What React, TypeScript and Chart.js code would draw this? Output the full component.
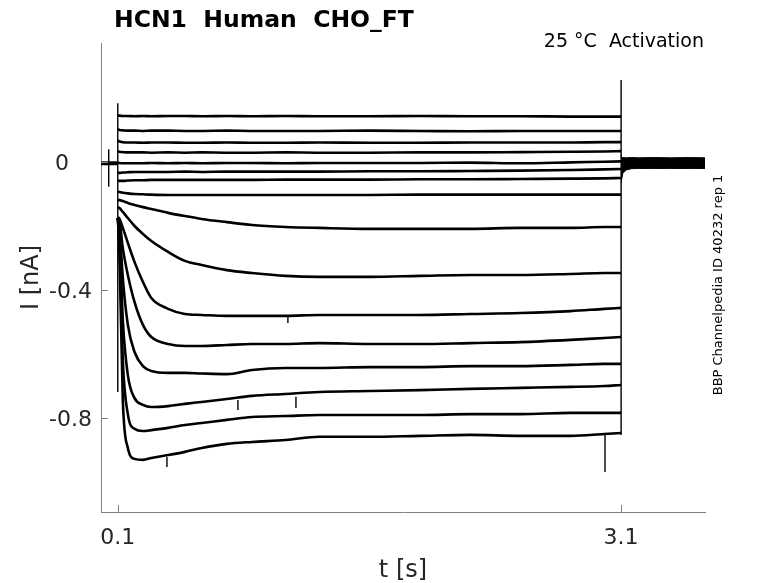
import { useEffect, useRef } from "react";
import { Chart, registerables, type Plugin } from "chart.js";

Chart.register(...registerables);

// sample times (s) along the test pulse
const pulseTimes = [0.1, 0.11, 0.13, 0.16, 0.2, 0.25, 0.3, 0.4, 0.5, 0.6, 0.75, 0.9, 1.1, 1.3, 1.6, 1.9, 2.2, 2.5, 2.8, 3.0, 3.1];

// current (nA) of each sweep, top to bottom
const sweep01 = [0.146, 0.145, 0.144, 0.144, 0.143, 0.144, 0.143, 0.144, 0.144, 0.143, 0.144, 0.143, 0.144, 0.143, 0.143, 0.144, 0.143, 0.143, 0.142, 0.142, 0.142];
const sweep02 = [0.103, 0.1, 0.099, 0.098, 0.098, 0.097, 0.098, 0.098, 0.097, 0.097, 0.098, 0.097, 0.097, 0.097, 0.098, 0.097, 0.096, 0.097, 0.097, 0.097, 0.097];
const sweep03 = [0.067, 0.064, 0.062, 0.061, 0.061, 0.06, 0.061, 0.061, 0.06, 0.06, 0.061, 0.06, 0.06, 0.061, 0.06, 0.06, 0.061, 0.061, 0.061, 0.062, 0.062];
const sweep04 = [0.034, 0.032, 0.031, 0.03, 0.03, 0.03, 0.029, 0.03, 0.029, 0.03, 0.029, 0.029, 0.03, 0.029, 0.029, 0.03, 0.03, 0.031, 0.032, 0.033, 0.034];
const sweep05 = [-0.002, -0.003, -0.004, -0.004, -0.004, -0.004, -0.003, -0.004, -0.003, -0.004, -0.003, -0.003, -0.004, -0.003, -0.003, -0.003, -0.002, -0.004, -0.001, 0.001, 0.002];
const sweep06 = [-0.034, -0.034, -0.033, -0.032, -0.031, -0.031, -0.031, -0.031, -0.03, -0.031, -0.03, -0.03, -0.03, -0.03, -0.029, -0.029, -0.028, -0.027, -0.025, -0.023, -0.022];
const sweep07 = [-0.058, -0.059, -0.059, -0.058, -0.057, -0.057, -0.056, -0.056, -0.056, -0.056, -0.056, -0.056, -0.055, -0.055, -0.055, -0.054, -0.054, -0.053, -0.052, -0.051, -0.05];
const sweep08 = [-0.092, -0.094, -0.096, -0.098, -0.1, -0.101, -0.102, -0.103, -0.103, -0.103, -0.103, -0.103, -0.103, -0.103, -0.103, -0.102, -0.102, -0.102, -0.102, -0.102, -0.102];
const sweep09 = [-0.119, -0.119, -0.122, -0.128, -0.134, -0.141, -0.147, -0.159, -0.169, -0.178, -0.188, -0.197, -0.203, -0.206, -0.209, -0.209, -0.209, -0.206, -0.206, -0.203, -0.203];
const sweep10 = [-0.141, -0.144, -0.156, -0.175, -0.2, -0.225, -0.247, -0.281, -0.309, -0.322, -0.338, -0.347, -0.356, -0.359, -0.359, -0.356, -0.353, -0.353, -0.35, -0.347, -0.347];
const sweep11 = [-0.172, -0.178, -0.206, -0.253, -0.313, -0.375, -0.425, -0.459, -0.475, -0.478, -0.481, -0.481, -0.481, -0.478, -0.478, -0.478, -0.475, -0.472, -0.466, -0.459, -0.456];
const sweep12 = [-0.175, -0.184, -0.269, -0.353, -0.438, -0.509, -0.547, -0.569, -0.575, -0.575, -0.572, -0.569, -0.569, -0.566, -0.569, -0.569, -0.566, -0.563, -0.556, -0.55, -0.547];
const sweep13 = [-0.175, -0.2, -0.363, -0.509, -0.594, -0.638, -0.653, -0.659, -0.659, -0.661, -0.663, -0.65, -0.644, -0.644, -0.641, -0.641, -0.638, -0.638, -0.634, -0.631, -0.631];
const sweep14 = [-0.175, -0.222, -0.494, -0.666, -0.738, -0.759, -0.766, -0.763, -0.756, -0.75, -0.741, -0.731, -0.725, -0.719, -0.716, -0.713, -0.709, -0.706, -0.703, -0.7, -0.697];
const sweep15 = [-0.175, -0.25, -0.619, -0.788, -0.834, -0.841, -0.838, -0.831, -0.822, -0.816, -0.806, -0.797, -0.794, -0.791, -0.791, -0.791, -0.788, -0.788, -0.784, -0.784, -0.784];
const sweep16 = [-0.175, -0.281, -0.744, -0.894, -0.928, -0.931, -0.925, -0.916, -0.906, -0.894, -0.881, -0.875, -0.869, -0.859, -0.859, -0.856, -0.853, -0.856, -0.856, -0.85, -0.847];

const sweeps = [sweep01, sweep02, sweep03, sweep04, sweep05, sweep06, sweep07, sweep08,
    sweep09, sweep10, sweep11, sweep12, sweep13, sweep14, sweep15, sweep16];

// holding level before the pulse
const holdingTimes = [0, 0.1];
const holdingCurrent = [-0.004, -0.004];

// noise envelope of the overlapping tails after the pulse
const tailTimes = [3.1, 3.102, 3.11, 3.13, 3.16, 3.2, 3.3, 3.4, 3.5, 3.6];
const tailUpper = [0.02, 0.014, 0.014, 0.013, 0.014, 0.013, 0.014, 0.013, 0.014, 0.013];
const tailLower = [-0.065, -0.058, -0.036, -0.025, -0.021, -0.02, -0.02, -0.02, -0.02, -0.02];

// vertical transients and glitches: [t, top, bottom]
const transients = [[0.1, 0.184, -0.719], [3.1, 0.256, -0.853], [0.046, 0.04, -0.077]];
const glitches = [[0.393, -0.922, -0.953], [0.816, -0.744, -0.775], [1.114, -0.478, -0.503], [1.162, -0.734, -0.769], [3.004, -0.853, -0.969]];

const xTicks = [0.1, 3.1];
const xTickLabels = ["0.1", "3.1"];
const yTicks = [0, -0.4, -0.8];
const yTickLabels = ["0", "-0.4", "-0.8"];

const AXIS = "#808080";
const TEXT = "#262626";
const FONT = "'DejaVu Sans', sans-serif";

const decorations: Plugin<"line"> = {
    id: "decorations",
    afterDraw(chart) {
        const { ctx, chartArea: a, scales } = chart;
        const sx = scales.x, sy = scales.y;
        ctx.save();

        // inward tick marks
        ctx.strokeStyle = AXIS;
        ctx.lineWidth = 1;
        ctx.beginPath();
        xTicks.forEach(v => {
            const px = Math.round(sx.getPixelForValue(v)) + 0.5;
            ctx.moveTo(px, a.bottom);
            ctx.lineTo(px, a.bottom - 7);
        });
        yTicks.forEach(v => {
            const py = Math.round(sy.getPixelForValue(v)) + 0.5;
            ctx.moveTo(a.left, py);
            ctx.lineTo(a.left + 7, py);
        });
        ctx.stroke();

        // tick labels
        ctx.fillStyle = TEXT;
        ctx.font = `22px ${FONT}`;
        ctx.textBaseline = "alphabetic";
        ctx.textAlign = "center";
        xTicks.forEach((v, i) => ctx.fillText(xTickLabels[i], sx.getPixelForValue(v), a.bottom + 32));
        ctx.textAlign = "right";
        yTicks.forEach((v, i) => {
            const right = v === 0 ? a.left - 32 : a.left - 9;
            ctx.fillText(yTickLabels[i], right, sy.getPixelForValue(v) + 8);
        });

        // axis titles
        ctx.font = `24px ${FONT}`;
        ctx.textAlign = "center";
        ctx.fillText("t [s]", (a.left + a.right) / 2, 577);
        ctx.save();
        ctx.translate(38, (a.top + a.bottom) / 2);
        ctx.rotate(-Math.PI / 2);
        ctx.fillText("I [nA]", 0, 0);
        ctx.restore();

        // title and notes
        ctx.fillStyle = "#000";
        ctx.font = `bold 23.5px ${FONT}`;
        ctx.textAlign = "left";
        ctx.fillText("HCN1  Human  CHO_FT", 114, 27);
        ctx.font = `19px ${FONT}`;
        ctx.textAlign = "right";
        ctx.fillText("25 °C  Activation", 704, 47);
        ctx.save();
        ctx.translate(722, 285);
        ctx.rotate(-Math.PI / 2);
        ctx.font = `13px ${FONT}`;
        ctx.textAlign = "center";
        ctx.fillText("BBP Channelpedia ID 40232 rep 1", 0, 0);
        ctx.restore();

        ctx.restore();
    },
};

export default function App() {
    const canvasRef = useRef<HTMLCanvasElement>(null);

    useEffect(() => {
        if (!canvasRef.current) return;

        const line = { borderColor: "#000", pointRadius: 0, fill: false, tension: 0 };
        const datasets: any[] = [];

        sweeps.forEach((s, i) => datasets.push({
            ...line,
            label: `sweep ${i + 1}`,
            data: pulseTimes.map((t, k) => ({ x: t, y: s[k] })),
            borderWidth: 2.6,
            cubicInterpolationMode: "monotone",
        }));
        datasets.push({
            ...line,
            label: "holding",
            data: holdingTimes.map((t, k) => ({ x: t, y: holdingCurrent[k] })),
            borderWidth: 4,
        });
        datasets.push({
            ...line,
            label: "tail max",
            data: tailTimes.map((t, k) => ({ x: t, y: tailUpper[k] })),
            borderWidth: 1,
        });
        datasets.push({
            ...line,
            label: "tail min",
            data: tailTimes.map((t, k) => ({ x: t, y: tailLower[k] })),
            borderWidth: 1,
            fill: "-1",
            backgroundColor: "#000",
        });
        [...transients, ...glitches].forEach(([t, top, bottom], i) => datasets.push({
            ...line,
            label: `spike ${i + 1}`,
            data: [{ x: t, y: top }, { x: t, y: bottom }],
            borderWidth: 1.4,
        }));

        const chart = new Chart(canvasRef.current, {
            type: "line",
            data: { datasets },
            options: {
                animation: false,
                responsive: false,
                layout: { padding: { left: 0, top: 43, right: 73, bottom: 0 } },
                plugins: {
                    legend: { display: false },
                    tooltip: { enabled: false },
                },
                scales: {
                    x: {
                        type: "linear",
                        min: 0,
                        max: 3.6,
                        ticks: { display: false },
                        grid: { display: false },
                        border: { display: true, color: AXIS, width: 1 },
                        afterFit: (s: any) => { s.height = 71; },
                    },
                    y: {
                        type: "linear",
                        min: -1.094,
                        max: 0.372,
                        ticks: { display: false },
                        grid: { display: false },
                        border: { display: true, color: AXIS, width: 1 },
                        afterFit: (s: any) => { s.width = 101; },
                    },
                },
            },
            plugins: [decorations],
        });

        return () => { chart.destroy(); };
    }, []);

    return (
        <div style={{ position: "fixed", left: 0, top: 0, width: 778, height: 583, background: "#fff" }}>
            <canvas ref={canvasRef} width={778} height={583} style={{ display: "block" }} />
        </div>
    );
}
